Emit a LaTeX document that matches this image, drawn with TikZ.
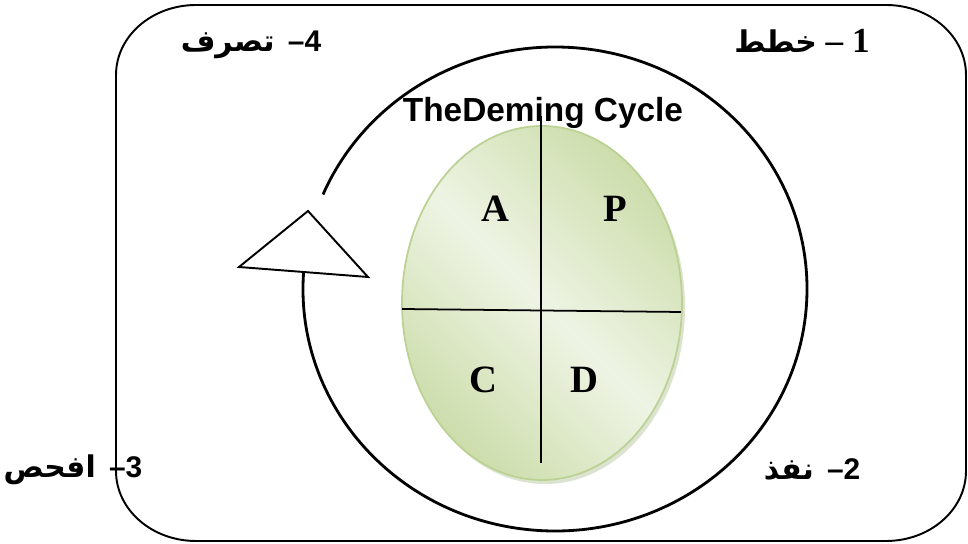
\documentclass[tikz,border=0pt]{standalone}
\usepackage{fontspec}
\setmainfont{Liberation Serif}
\newfontfamily\arialfont{Liberation Sans}
\newfontfamily\arabicfont[Script=Arabic]{DejaVu Sans}
\TeXXeTstate=1
\usepackage{tikz}
\usetikzlibrary{positioning, calc}
\usepackage{xcolor}
\definecolor{leafdark}{HTML}{C4D79C}
\definecolor{leaflight}{HTML}{EEF4E4}
\definecolor{leafrim}{HTML}{BCD294}
\definecolor{leafshadow}{HTML}{A9B98C}
\pgfdeclarehorizontalshading{leafband}{100bp}{color(0bp)=(leafdark);
  color(18bp)=(leafdark); color(50bp)=(leaflight); color(82bp)=(leafdark);
  color(100bp)=(leafdark)}

\begin{document}
\begin{tikzpicture}[x=0.02cm, y=0.02cm,
  every node/.style={inner sep=0pt},
  frame/.style={line width=1.1pt},
  loopline/.style={line width=1.6pt},
  quad/.style={font=\fontsize{22}{26}\selectfont\bfseries, anchor=base},
  lbl/.style={font=\arialfont\fontsize{17}{20}\selectfont\bfseries, anchor=base}]
  \useasboundingbox (0,0) rectangle (968,544);
  % outer frame
  \draw[frame] (196,539) -- (886,539)
    arc[start angle=90, end angle=0, x radius=80, y radius=70] -- (966,73)
    arc[start angle=0, end angle=-90, x radius=80, y radius=70] -- (196,3)
    arc[start angle=-90, end angle=-180, x radius=80, y radius=70] -- (116,469)
    arc[start angle=180, end angle=90, x radius=80, y radius=70] -- cycle;
  % cycle with open arrow head
  \coordinate (O) at (555,255);
  \draw[loopline] ($(O)+(176:252 and 242)$)
    arc[start angle=176, end angle=517, x radius=252, y radius=242];
  \coordinate (tip) at (308,333);
  \coordinate (wl) at (239,277);
  \coordinate (wr) at (368,267);
  \draw[frame, fill=white, line join=miter] (tip) -- (wl) -- (wr) -- cycle;
  % PDCA disc
  \fill[leafshadow, opacity=.4] (545,237) ellipse[x radius=140, y radius=177];
  \shade[shading=leafband, shading angle=45] (542,241)
    ellipse[x radius=140, y radius=177];
  \draw[leafrim, line width=1pt] (542,241) ellipse[x radius=140, y radius=177];
  \node[font=\arialfont\fontsize{19}{22}\selectfont\bfseries, anchor=base]
    (title) at (543,422) {TheDeming Cycle};
  \coordinate (vt) at (541,428);
  \coordinate (vb) at (541,81);
  \coordinate (hl) at (402,235);
  \coordinate (hr) at (681,232);
  \draw[line width=1pt] (vt) -- (vb);
  \draw[line width=1pt] (hl) -- (hr);
  \node[quad] (A) at (495,322) {A};
  \node[quad] (P) at (615,322) {P};
  \node[quad] (C) at (483,151) {C};
  \node[quad] (D) at (584,151) {D};
  % steps
  \node[lbl] (act) at (251,492) {{\arabicfont\beginR تصرف\endR} \,–4};
  \node[lbl, font=\fontsize{20}{24}\selectfont\bfseries] (plan) at (802,491)
    {{\arabicfont\fontsize{17}{20}\selectfont\beginR خطط\endR} – 1};
  \node[lbl] (check) at (73,66) {{\arabicfont\beginR افحص\endR} \,–3};
  \node[lbl] (do) at (812,64) {{\arabicfont\beginR نفذ\endR} \,–2};
\end{tikzpicture}
\end{document}
